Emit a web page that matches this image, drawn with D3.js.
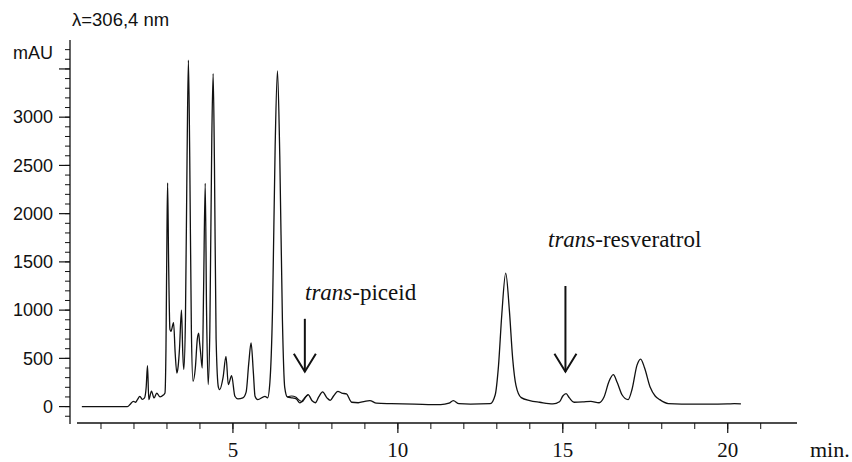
<!DOCTYPE html>
<html>
<head>
<meta charset="utf-8">
<script src="https://cdn.jsdelivr.net/npm/d3@7"></script>
<style>
  body { margin: 0; background: #fff; }
  svg { display: block; }
  .sans { font-family: "Liberation Sans", Arial, sans-serif; }
  .serif { font-family: "Liberation Serif", "Times New Roman", serif; }
</style>
</head>
<body>
<svg id="chart" width="852" height="462"></svg>
<script>
// retention time (min) and absorbance (mAU)
const time = [0.42, 1.8, 1.9, 1.98, 2.05, 2.1, 2.18, 2.25, 2.32, 2.37, 2.41, 2.45, 2.53, 2.61, 2.69, 2.79, 2.89, 2.94,
  2.97, 3.0, 3.02, 3.05, 3.09, 3.12, 3.2, 3.25, 3.3, 3.34, 3.38, 3.44, 3.48, 3.51,
  3.56, 3.61, 3.65, 3.69, 3.74, 3.79, 3.86, 3.92, 3.96, 3.99, 4.02, 4.07,
  4.11, 4.16, 4.2, 4.25, 4.3, 4.36, 4.4, 4.44, 4.49, 4.56, 4.6, 4.7, 4.79, 4.86, 4.96, 5.06, 5.15, 5.3,
  5.4, 5.48, 5.55, 5.62, 5.67, 5.75, 5.97, 6.05, 6.12, 6.2, 6.28, 6.35, 6.42, 6.5, 6.57, 6.65, 6.8, 6.92,
  7.03, 7.15, 7.28, 7.4, 7.5, 7.6, 7.72, 7.85, 7.95, 8.05, 8.18, 8.3, 8.44, 8.6, 8.8, 9.0, 9.15, 9.35,
  9.8, 10.5, 11.3, 11.55, 11.68, 11.85, 12.2, 12.8, 12.95, 13.05, 13.15, 13.27, 13.38, 13.48, 13.58, 13.74,
  14.0, 14.3, 14.7, 14.9, 15.0, 15.1, 15.2, 15.34, 15.6, 15.85, 16.1, 16.25, 16.4, 16.53, 16.65, 16.8, 16.98,
  17.1, 17.25, 17.36, 17.48, 17.65, 17.8, 17.94, 18.2, 18.6, 19.5, 20.0, 20.2, 20.4];
const mau = [0, 0, 30, 55, 45, 70, 105, 75, 90, 200, 424, 72, 160, 90, 140, 100, 120, 140,
  600, 1800, 2320, 1500, 800, 780, 870, 550, 348, 420, 600, 1000, 550, 383,
  900, 2600, 3590, 2600, 800, 262, 400, 700, 762, 660, 560, 400,
  1200, 2314, 1000, 228, 800, 2800, 3450, 2500, 700, 200, 176, 300, 520, 228, 320, 107, 80, 90,
  150, 450, 660, 350, 107, 72, 107, 90, 250, 1000, 2700, 3480, 2600, 900, 200, 100, 90, 80,
  38, 80, 124, 60, 40, 100, 152, 90, 65, 110, 158, 140, 131, 45, 40, 55, 62, 35,
  30, 25, 20, 35, 62, 30, 25, 30, 120, 420, 950, 1383, 1000, 500, 220, 93,
  62, 45, 28, 50, 110, 134, 90, 45, 48, 55, 40, 100, 260, 331, 250, 120, 72,
  180, 430, 493, 400, 200, 110, 72, 30, 25, 25, 28, 30, 28];

// second overlaid run, only visible where it splits from the first
const time2 = [6.65, 6.78, 6.9, 7.0, 7.1, 7.2, 7.28];
const mau2 = [100, 110, 100, 70, 50, 95, 124];

const xMajor = [5, 10, 15, 20];
const xMinor = d3.range(1, 22);
const yMajor = [0, 500, 1000, 1500, 2000, 2500, 3000, 3500];
const yLabels = [0, 500, 1000, 1500, 2000, 2500, 3000];
const yMinor = d3.range(-100, 3800, 100);

const peakNames = ["trans-piceid", "trans-resveratrol"];
const peakTimes = [7.18, 15.08];

const svg = d3.select("#chart");

const x = d3.scaleLinear().domain([0, 22.1]).range([68, 797]);
const y = d3.scaleLinear().domain([-170, 3800]).range([423, 40]);

const ink = "#111";

// axes lines
svg.append("line")
  .attr("x1", 70).attr("x2", 70)
  .attr("y1", 40).attr("y2", 424)
  .attr("stroke", ink).attr("stroke-width", 1.3);
svg.append("line")
  .attr("x1", 77).attr("x2", 797)
  .attr("y1", 423).attr("y2", 423)
  .attr("stroke", ink).attr("stroke-width", 1.3);

// y ticks
svg.append("g").selectAll("line").data(yMinor).join("line")
  .attr("x1", 65).attr("x2", 70)
  .attr("y1", d => y(d)).attr("y2", d => y(d))
  .attr("stroke", ink).attr("stroke-width", 1);
svg.append("g").selectAll("line").data(yMajor).join("line")
  .attr("x1", 59).attr("x2", 70)
  .attr("y1", d => y(d)).attr("y2", d => y(d))
  .attr("stroke", ink).attr("stroke-width", 1.2);
svg.append("g").selectAll("text").data(yLabels).join("text")
  .attr("class", "sans")
  .attr("x", 53).attr("y", d => y(d))
  .attr("dy", "0.35em")
  .attr("text-anchor", "end")
  .attr("font-size", 18)
  .attr("fill", ink)
  .text(d => d);

// x ticks
svg.append("g").selectAll("line").data(xMinor).join("line")
  .attr("x1", d => x(d)).attr("x2", d => x(d))
  .attr("y1", 423).attr("y2", 429)
  .attr("stroke", ink).attr("stroke-width", 1);
svg.append("g").selectAll("line").data(xMajor).join("line")
  .attr("x1", d => x(d)).attr("x2", d => x(d))
  .attr("y1", 423).attr("y2", 433)
  .attr("stroke", ink).attr("stroke-width", 1.2);
svg.append("g").selectAll("text").data(xMajor).join("text")
  .attr("class", "serif")
  .attr("x", d => x(d)).attr("y", 457)
  .attr("text-anchor", "middle")
  .attr("font-size", 21)
  .attr("fill", ink)
  .text(d => d);

// axis titles
svg.append("text").attr("class", "serif")
  .attr("x", 810).attr("y", 457)
  .attr("font-size", 22).attr("fill", ink)
  .text("min.");
svg.append("text").attr("class", "sans")
  .attr("x", 53).attr("y", 59)
  .attr("text-anchor", "end")
  .attr("font-size", 18).attr("fill", ink)
  .text("mAU");
svg.append("text").attr("class", "sans")
  .attr("x", 72).attr("y", 26)
  .attr("font-size", 18.5).attr("fill", ink)
  .text("λ=306,4 nm");

// chromatogram traces
const line = d3.line()
  .x(d => x(d[0]))
  .y(d => y(d[1]))
  .curve(d3.curveMonotoneX);

svg.append("path")
  .datum(d3.zip(time2, mau2))
  .attr("d", line)
  .attr("fill", "none")
  .attr("stroke", ink)
  .attr("stroke-width", 1.1);

svg.append("path")
  .datum(d3.zip(time, mau))
  .attr("d", line)
  .attr("fill", "none")
  .attr("stroke", ink)
  .attr("stroke-width", 1.3)
  .attr("stroke-linejoin", "round");

// peak annotations: label + arrow pointing down
const arrowTop = [910, 1250];
const labelY = [1107, 1655];
const labelX = [305, 548];

peakNames.forEach((name, i) => {
  const ax = x(peakTimes[i]);
  const yTop = y(arrowTop[i]);
  const yTip = y(362);

  const g = svg.append("g")
    .attr("stroke", ink)
    .attr("stroke-width", 2)
    .attr("fill", "none");
  g.append("line")
    .attr("x1", ax).attr("x2", ax)
    .attr("y1", yTop).attr("y2", yTip);
  g.append("path")
    .attr("d", `M${ax - 11},${yTip - 18}L${ax},${yTip}L${ax + 11},${yTip - 18}`);

  const parts = name.split("-");
  const t = svg.append("text")
    .attr("class", "serif")
    .attr("x", labelX[i])
    .attr("y", y(labelY[i]))
    .attr("font-size", 23)
    .attr("fill", ink);
  t.append("tspan").attr("font-style", "italic").text(parts[0]);
  t.append("tspan").text("-" + parts[1]);
});
</script>
</body>
</html>
